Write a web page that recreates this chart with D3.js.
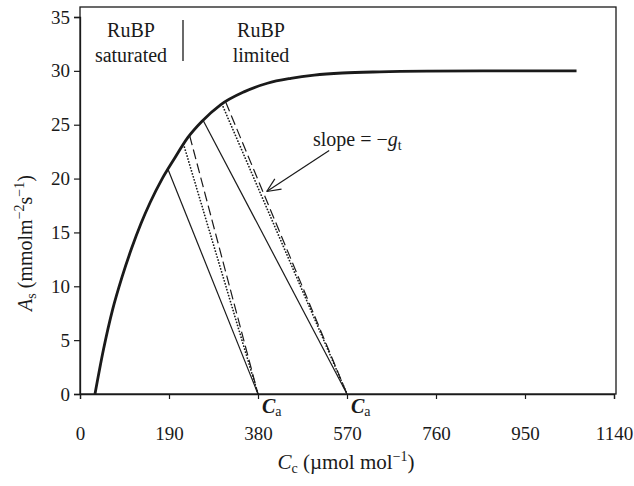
<!DOCTYPE html>
<html>
<head>
<meta charset="utf-8">
<script src="https://cdn.jsdelivr.net/npm/d3@7"></script>
<style>
  html, body { margin: 0; padding: 0; background: #fff; }
  svg { display: block; }
</style>
</head>
<body>
<svg id="chart" width="634" height="486"></svg>
<script>
// Assimilation response curve A_s(C_c)
const curveCc = [32, 50, 70, 90, 110, 130, 150, 175, 200, 230, 260, 300, 350, 400, 450, 500, 560, 640, 740, 860, 1060];
const curveA  = [0, 4.1, 7.9, 10.9, 13.5, 15.8, 17.8, 19.95, 21.75, 23.8, 25.3, 26.85, 28.05, 28.85, 29.3, 29.6, 29.8, 29.91, 29.97, 29.99, 30];

// Supply lines (slope = -g_t) running from the curve down to C_a
const supplyTopCc = [188, 221, 234, 263, 303, 311];
const supplyTopA  = [20.85, 23.2, 24.0, 25.4, 26.92, 27.1];
const supplyCa    = [380, 380, 380, 570, 570, 570];
const supplyKind  = ["solid", "dotted", "dashed", "solid", "dotted", "dashed"];

// Axis ticks
const xTicks = [0, 190, 380, 570, 760, 950, 1140];
const yTicks = [0, 5, 10, 15, 20, 25, 30, 35];
const caMarks = [380, 570];

const serif = "'Liberation Serif', 'Times New Roman', serif";
const ink = "#1a1a1a";

const svg = d3.select("#chart")
  .style("font-family", serif);
const W = 634, H = 486;
svg.append("rect").attr("width", W).attr("height", H).attr("fill", "#fff");

const x = d3.scaleLinear().domain([0, 1140]).range([80, 614]);
const y = d3.scaleLinear().domain([0, 35]).range([394, 17]);
const frameTop = 7, frameRight = 616;

// Frame
svg.append("rect")
  .attr("x", x(0)).attr("y", frameTop)
  .attr("width", frameRight - x(0)).attr("height", y(0) - frameTop)
  .attr("fill", "none").attr("stroke", ink).attr("stroke-width", 1.3);

// Axes
const fs = 19;
const yAxis = svg.append("g").attr("transform", `translate(${x(0)},0)`)
  .call(d3.axisLeft(y).tickValues(yTicks).tickSize(6).tickPadding(4).tickFormat(d3.format("d")));
const xAxis = svg.append("g").attr("transform", `translate(0,${y(0)})`)
  .call(d3.axisBottom(x).tickValues(xTicks).tickSize(5).tickPadding(28).tickFormat(d3.format("d")));
[yAxis, xAxis].forEach(g => {
  g.attr("font-family", null).attr("font-size", null);
  g.select(".domain").attr("stroke", ink).attr("stroke-width", 1.3);
  g.selectAll(".tick line").attr("stroke", ink).attr("stroke-width", 1.2);
  g.selectAll(".tick text")
    .style("font-family", serif).style("font-size", fs + "px").attr("fill", ink);
});

// Response curve
const curvePts = curveCc.map((c, i) => [c, curveA[i]]);
svg.append("path")
  .datum(curvePts)
  .attr("d", d3.line().x(d => x(d[0])).y(d => y(d[1])).curve(d3.curveMonotoneX))
  .attr("fill", "none").attr("stroke", ink).attr("stroke-width", 2.8);

// Supply lines
const lineStyle = {
  solid:  { dash: null, width: 1.2, cap: "butt" },
  dotted: { dash: "0.1,3", width: 1.7, cap: "round" },
  dashed: { dash: "10,4.5", width: 1.2, cap: "butt" }
};
supplyTopCc.forEach((c, i) => {
  const s = lineStyle[supplyKind[i]];
  svg.append("line")
    .attr("x1", x(c)).attr("y1", y(supplyTopA[i]))
    .attr("x2", x(supplyCa[i])).attr("y2", y(0))
    .attr("stroke", ink).attr("stroke-width", s.width)
    .attr("stroke-linecap", s.cap)
    .attr("stroke-dasharray", s.dash);
});

// C_a markers under the axis
caMarks.forEach(c => {
  const t = svg.append("text").attr("x", x(c) + 4).attr("y", 413).attr("font-size", 20).attr("fill", ink);
  t.append("tspan").attr("font-style", "italic").attr("font-weight", "bold").text("C");
  t.append("tspan").attr("font-size", 14).attr("dy", 3).text("a");
});

// Region labels
function centered(txt, cx, by) {
  svg.append("text").attr("x", cx).attr("y", by).attr("text-anchor", "middle")
    .attr("font-size", 20).attr("fill", ink).text(txt);
}
centered("RuBP", 131, 37);
centered("saturated", 131, 62);
centered("RuBP", 261, 37);
centered("limited", 261, 62);
svg.append("line").attr("x1", 183).attr("x2", 183).attr("y1", 20).attr("y2", 61)
  .attr("stroke", ink).attr("stroke-width", 1.3);

// Slope annotation with open arrow
const sl = svg.append("text").attr("x", 313).attr("y", 146).attr("font-size", 20).attr("fill", ink);
sl.append("tspan").text("slope = \u2212");
sl.append("tspan").attr("font-style", "italic").text("g");
sl.append("tspan").attr("font-size", 14).attr("dy", 4).text("t");

const tail = [x(532), y(22.6)], tip = [x(398.6), y(18.8)];
svg.append("line").attr("x1", tail[0]).attr("y1", tail[1]).attr("x2", tip[0]).attr("y2", tip[1])
  .attr("stroke", ink).attr("stroke-width", 1.2);
const ang = Math.atan2(tail[1] - tip[1], tail[0] - tip[0]);
[-0.42, 0.42].forEach(da => {
  svg.append("line")
    .attr("x1", tip[0]).attr("y1", tip[1])
    .attr("x2", tip[0] + 15 * Math.cos(ang + da)).attr("y2", tip[1] + 15 * Math.sin(ang + da))
    .attr("stroke", ink).attr("stroke-width", 1.2);
});

// Axis titles
const xl = svg.append("text").attr("x", 346).attr("y", 469).attr("text-anchor", "middle")
  .attr("font-size", 21).attr("fill", ink);
xl.append("tspan").attr("font-style", "italic").text("C");
xl.append("tspan").attr("font-size", 14).attr("dy", 4).text("c");
xl.append("tspan").attr("dy", -4).text(" (\u00b5mol mol");
xl.append("tspan").attr("font-size", 14).attr("dy", -8).text("\u22121");
xl.append("tspan").attr("dy", 8).text(")");

const yl = svg.append("text").attr("transform", "translate(32,243) rotate(-90)")
  .attr("text-anchor", "middle").attr("font-size", 20).attr("fill", ink);
yl.append("tspan").attr("font-style", "italic").text("A");
yl.append("tspan").attr("font-size", 14).attr("dy", 4).text("s");
yl.append("tspan").attr("dy", -4).text(" (mmolm");
yl.append("tspan").attr("font-size", 14).attr("dy", -8).text("\u22122");
yl.append("tspan").attr("dy", 8).text("s");
yl.append("tspan").attr("font-size", 14).attr("dy", -8).text("\u22121");
yl.append("tspan").attr("dy", 8).text(")");
</script>
</body>
</html>
